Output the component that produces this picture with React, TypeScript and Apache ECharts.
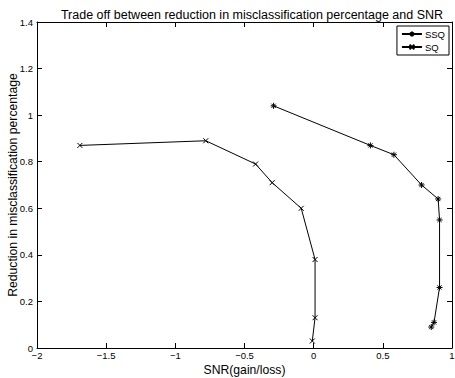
import React, { useEffect, useRef } from "react";
import * as echarts from "echarts";

const ssqX = [-0.29, 0.41, 0.58, 0.78, 0.90, 0.91, 0.91, 0.87, 0.85];
const ssqY = [1.04, 0.87, 0.83, 0.70, 0.64, 0.55, 0.26, 0.11, 0.09];
const sqX = [-1.69, -0.78, -0.42, -0.30, -0.09, 0.01, 0.01, -0.01];
const sqY = [0.87, 0.89, 0.79, 0.71, 0.60, 0.38, 0.13, 0.03];
const seriesNames = ["SSQ", "SQ"];
const titleText = "Trade off between reduction in misclassification percentage and SNR";
const xName = "SNR(gain/loss)";
const yName = "Reduction in misclassification percentage";

const FONT = "Liberation Sans, Arial, Helvetica, sans-serif";
const starPath = "path://M5,0L5,10M0,5L10,5M1.5,1.5L8.5,8.5M8.5,1.5L1.5,8.5";
const crossPath = "path://M0,0L10,10M10,0L0,10";

export default function App() {
  const ref = useRef<HTMLDivElement>(null);
  useEffect(() => {
    document.body.style.margin = "0";
    const chart = echarts.init(ref.current!, null, { renderer: "svg" });
    const fmtX = (v: number) => String(v).replace("-", "\u2212");
    const common = {
      axisLine: { show: true, onZero: false, lineStyle: { color: "#000", width: 1 } },
      axisTick: { show: true, inside: true, length: 5, lineStyle: { color: "#000" } },
      splitLine: { show: false },
      nameMoveOverlap: false,
    };
    chart.setOption({
      animation: false,
      backgroundColor: "#fff",
      title: {
        text: titleText,
        left: 247,
        textAlign: "center",
        top: 3,
        textStyle: { fontFamily: FONT, fontSize: 12.5, fontWeight: "normal", color: "#000" },
      },
      legend: {
        data: seriesNames,
        orient: "vertical",
        right: 6,
        top: 26,
        backgroundColor: "#fff",
        borderColor: "#000",
        borderWidth: 1,
        borderRadius: 0,
        padding: [3, 4, 3, 4],
        itemGap: 3,
        itemWidth: 20,
        itemHeight: 6,
        textStyle: { fontFamily: FONT, fontSize: 9.5, color: "#000", padding: [0, 0, 0, -2] },
      },
      grid: { left: 37, top: 22, width: 415, height: 326, containLabel: false, outerBoundsMode: "none" },
      xAxis: [
        {
          ...common,
          type: "value",
          min: -2,
          max: 1,
          interval: 0.5,
          name: xName,
          nameLocation: "middle",
          nameGap: 16,
          nameTextStyle: { fontFamily: FONT, fontSize: 12.2, color: "#000" },
          axisLabel: { fontFamily: FONT, fontSize: 9.5, color: "#000", margin: 2, formatter: fmtX },
        },
        {
          ...common,
          type: "value",
          min: -2,
          max: 1,
          interval: 0.5,
          position: "top",
          axisLabel: { show: false },
        },
      ],
      yAxis: [
        {
          ...common,
          type: "value",
          min: 0,
          max: 1.4,
          interval: 0.2,
          name: yName,
          nameLocation: "middle",
          nameGap: 18,
          nameTextStyle: { fontFamily: FONT, fontSize: 12.2, color: "#000" },
          axisLabel: { fontFamily: FONT, fontSize: 9.5, color: "#000", margin: 4 },
        },
        {
          ...common,
          type: "value",
          min: 0,
          max: 1.4,
          interval: 0.2,
          position: "right",
          axisLabel: { show: false },
        },
      ],
      series: [
        {
          name: seriesNames[0],
          type: "line",
          data: ssqX.map((x, i) => [x, ssqY[i]]),
          symbol: starPath,
          symbolSize: 6,
          showSymbol: true,
          lineStyle: { color: "#000", width: 1 },
          itemStyle: { color: "#000", borderColor: "#000", borderWidth: 1 },
        },
        {
          name: seriesNames[1],
          type: "line",
          data: sqX.map((x, i) => [x, sqY[i]]),
          symbol: crossPath,
          symbolSize: 5,
          showSymbol: true,
          lineStyle: { color: "#000", width: 1 },
          itemStyle: { color: "#000", borderColor: "#000", borderWidth: 1 },
        },
      ],
    });
    return () => chart.dispose();
  }, []);
  return <div ref={ref} style={{ width: 455, height: 378 }} />;
}
